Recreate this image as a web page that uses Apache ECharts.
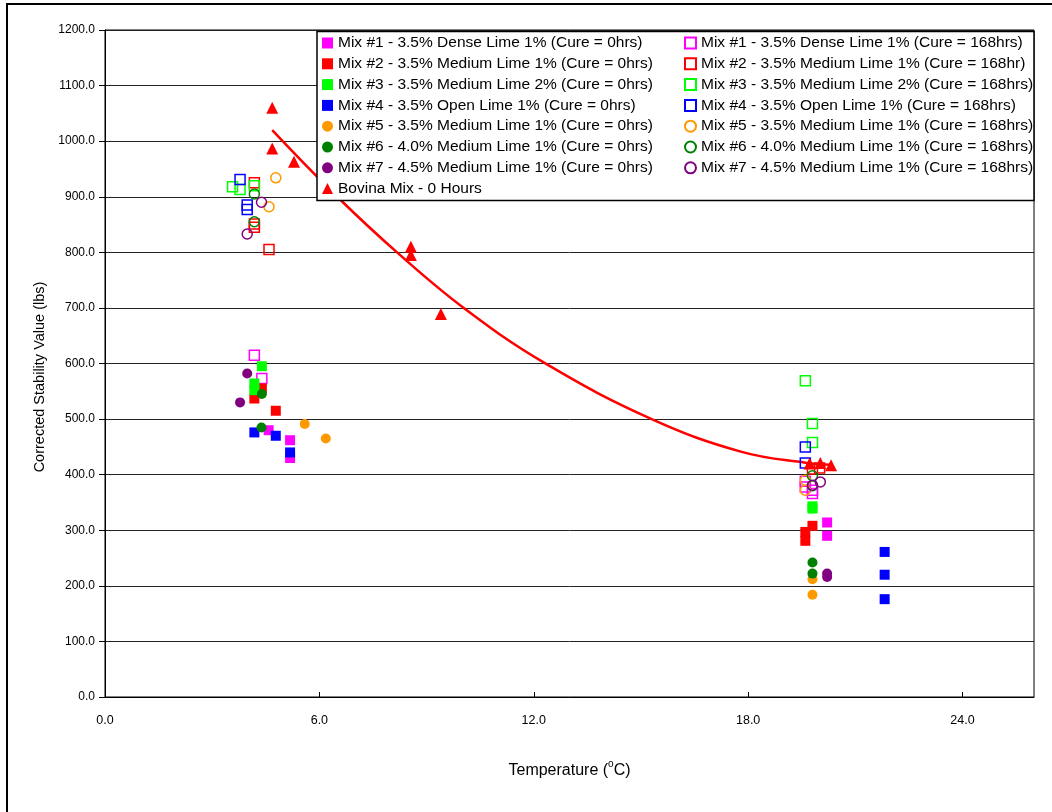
<!DOCTYPE html>
<html>
<head>
<meta charset="utf-8">
<title>Corrected Stability Value vs Temperature</title>
<script src="https://cdn.jsdelivr.net/npm/echarts@6/dist/echarts.min.js"></script>
<style>
  html, body { margin: 0; padding: 0; background: #fff; }
  #chart { width: 1052px; height: 812px; }
</style>
</head>
<body>
<div id="chart"></div>
<script>
// Temperature (°C) / corrected stability (lbs) pairs per mix
const mix1Cure0   = [[4.58, 480], [5.18, 462], [5.18, 430], [20.21, 314], [20.21, 290]];
const mix1Cure168 = [[4.18, 615], [4.39, 573], [19.6, 388], [19.6, 378], [19.8, 372], [19.8, 366]];
const mix2Cure0   = [[4.39, 555], [4.18, 537], [4.78, 515], [19.8, 308], [19.6, 297], [19.6, 281]];
const mix2Cure168 = [[4.18, 925], [4.18, 851], [4.18, 845], [4.59, 805], [19.8, 410], [20.0, 412]];
const mix3Cure0   = [[4.39, 595], [4.18, 564], [4.18, 552], [19.8, 343], [19.8, 339]];
const mix3Cure168 = [[3.57, 918], [3.78, 913], [4.18, 920], [19.6, 569], [19.8, 492], [19.8, 458]];
const mix4Cure0   = [[4.18, 476], [4.78, 470], [5.18, 440], [21.82, 261], [21.82, 220], [21.82, 176]];
const mix4Cure168 = [[3.78, 931], [3.98, 885], [3.98, 877], [19.6, 450], [19.6, 421]];
const mix5Cure0   = [[5.59, 491], [6.18, 465], [19.8, 212], [19.8, 184]];
const mix5Cure168 = [[4.78, 934], [4.59, 882], [19.6, 390], [19.6, 372]];
const mix6Cure0   = [[4.39, 545], [4.38, 485], [19.8, 242], [19.8, 222]];
const mix6Cure168 = [[4.18, 905], [4.18, 855], [19.8, 398], [19.8, 380]];
const mix7Cure0   = [[3.98, 582], [3.78, 530], [20.21, 222], [20.21, 216]];
const mix7Cure168 = [[4.38, 890], [3.98, 833], [20.02, 387], [19.8, 381]];
const bovina      = [[4.68, 1060], [4.68, 987], [5.29, 963], [8.56, 810], [8.56, 795], [9.40, 689],
                     [19.72, 420], [20.02, 421], [20.32, 417]];
// Trend curve through the Bovina mix points
const bovinaTrend = [[4.68, 1020], [6.5, 900], [8.19, 799], [10.06, 699], [12.3, 601],
                     [15.3, 500], [17.82, 441], [19.6, 421.5], [20.32, 418]];

const xTicks = [0, 6, 12, 18, 24];

const FONT = '"Liberation Sans", Arial, sans-serif';
const C = {
  pink: '#FF00FF', red: '#FF0000', green: '#00FF00', blue: '#0000FF',
  orange: '#FF9900', dkgreen: '#008000', purple: '#800080'
};

function filled(name, data, color, symbol, size) {
  return {
    name, type: 'scatter', data, symbol, symbolSize: size,
    itemStyle: { color: color, opacity: 1 },
    emphasis: { disabled: true }
  };
}
function hollow(name, data, color, symbol, size) {
  return {
    name, type: 'scatter', data, symbol, symbolSize: size,
    itemStyle: { color: 'transparent', borderColor: color, borderWidth: 1.5, opacity: 1 },
    emphasis: { disabled: true }
  };
}

const leftNames = [
  'Mix #1 - 3.5% Dense Lime 1% (Cure = 0hrs)',
  'Mix #2 - 3.5% Medium Lime 1% (Cure = 0hrs)',
  'Mix #3 - 3.5% Medium Lime 2% (Cure = 0hrs)',
  'Mix #4 - 3.5% Open Lime 1% (Cure = 0hrs)',
  'Mix #5 - 3.5% Medium Lime 1% (Cure = 0hrs)',
  'Mix #6 - 4.0% Medium Lime 1% (Cure = 0hrs)',
  'Mix #7 - 4.5% Medium Lime 1% (Cure = 0hrs)',
  'Bovina Mix - 0 Hours'
];
const rightNames = [
  'Mix #1 - 3.5% Dense Lime 1% (Cure = 168hrs)',
  'Mix #2 - 3.5% Medium Lime 1% (Cure = 168hr)',
  'Mix #3 - 3.5% Medium Lime 2% (Cure = 168hrs)',
  'Mix #4 - 3.5% Open Lime 1% (Cure = 168hrs)',
  'Mix #5 - 3.5% Medium Lime 1% (Cure = 168hrs)',
  'Mix #6 - 4.0% Medium Lime 1% (Cure = 168hrs)',
  'Mix #7 - 4.5% Medium Lime 1% (Cure = 168hrs)'
];

const series = [
  filled(leftNames[0], mix1Cure0, C.pink, 'rect', 10),
  hollow(rightNames[0], mix1Cure168, C.pink, 'rect', 10),
  filled(leftNames[1], mix2Cure0, C.red, 'rect', 10),
  hollow(rightNames[1], mix2Cure168, C.red, 'rect', 10),
  filled(leftNames[2], mix3Cure0, C.green, 'rect', 10),
  hollow(rightNames[2], mix3Cure168, C.green, 'rect', 10),
  filled(leftNames[3], mix4Cure0, C.blue, 'rect', 10),
  hollow(rightNames[3], mix4Cure168, C.blue, 'rect', 10),
  filled(leftNames[4], mix5Cure0, C.orange, 'circle', 10),
  hollow(rightNames[4], mix5Cure168, C.orange, 'circle', 10),
  filled(leftNames[5], mix6Cure0, C.dkgreen, 'circle', 10),
  hollow(rightNames[5], mix6Cure168, C.dkgreen, 'circle', 10),
  filled(leftNames[6], mix7Cure0, C.purple, 'circle', 10),
  hollow(rightNames[6], mix7Cure168, C.purple, 'circle', 10),
  filled(leftNames[7], bovina, C.red, 'triangle', 12),
  {
    name: 'Bovina trend', type: 'line', data: bovinaTrend, smooth: 0.4,
    showSymbol: false, symbol: 'none', z: 1,
    lineStyle: { color: C.red, width: 2.5 },
    emphasis: { disabled: true }, silent: true
  }
];

const legendText = { color: '#000', fontFamily: FONT, fontSize: 15.5, lineHeight: 17 };

const chart = echarts.init(document.getElementById('chart'), null, { renderer: 'canvas' });
chart.setOption({
  animation: false,
  backgroundColor: '#fff',
  textStyle: { fontFamily: FONT },
  grid: {
    left: 105, right: 18, top: 30, bottom: 115,
    show: true, borderColor: '#000', borderWidth: 1, backgroundColor: 'transparent'
  },
  graphic: [
    {
      type: 'rect', z: 0, silent: true,
      shape: { x: 7, y: 4, width: 1200, height: 1000 },
      style: { fill: 'none', stroke: '#000', lineWidth: 2 }
    },
    {
      type: 'rect', z: 3, silent: true,
      shape: { x: 317, y: 31.5, width: 717, height: 169 },
      style: { fill: '#fff', stroke: '#000', lineWidth: 1.5 }
    },
    {
      // vertical axis title
      type: 'text', z: 3, silent: true,
      x: 40, y: 377, rotation: Math.PI / 2,
      style: {
        text: 'Corrected Stability Value (lbs)',
        fontFamily: FONT, fontSize: 14.5, fill: '#000',
        align: 'center', verticalAlign: 'middle'
      }
    }
  ],
  legend: [
    {
      data: leftNames, orient: 'vertical', left: 322, top: 34.5, z: 5,
      itemWidth: 11, itemHeight: 11, itemGap: 3.8, padding: 0,
      textStyle: legendText, selectedMode: false
    },
    {
      data: rightNames, orient: 'vertical', left: 684, top: 34.5, z: 5,
      itemWidth: 11, itemHeight: 11, itemGap: 3.8, padding: 0,
      textStyle: legendText, selectedMode: false
    }
  ],
  xAxis: {
    type: 'value', min: 0, max: 26, interval: 6,
    name: '{a|Temperature (}{sup|o}{a|C)}',
    nameLocation: 'middle', nameGap: 62,
    nameTextStyle: {
      rich: {
        a: { fontFamily: FONT, fontSize: 16, color: '#000', lineHeight: 20, verticalAlign: 'bottom' },
        sup: { fontFamily: FONT, fontSize: 10, color: '#000', lineHeight: 20, verticalAlign: 'top' }
      }
    },
    axisLine: { show: true, onZero: false, lineStyle: { color: '#000', width: 1 } },
    axisTick: { show: true, inside: true, length: 5, customValues: xTicks, lineStyle: { color: '#000' } },
    axisLabel: {
      customValues: xTicks, margin: 17, color: '#000', fontFamily: FONT, fontSize: 12.5,
      formatter: v => Number(v).toFixed(1)
    },
    splitLine: { show: false }
  },
  yAxis: {
    type: 'value', min: 0, max: 1200, interval: 100,
    axisLine: { show: true, lineStyle: { color: '#000', width: 1 } },
    axisTick: { show: true, inside: false, length: 6, lineStyle: { color: '#000' } },
    axisLabel: {
      margin: 10, color: '#000', fontFamily: FONT, fontSize: 12,
      formatter: v => Number(v).toFixed(1)
    },
    splitLine: { show: true, lineStyle: { color: '#222', width: 1 } }
  },
  series: series
});
</script>
</body>
</html>
